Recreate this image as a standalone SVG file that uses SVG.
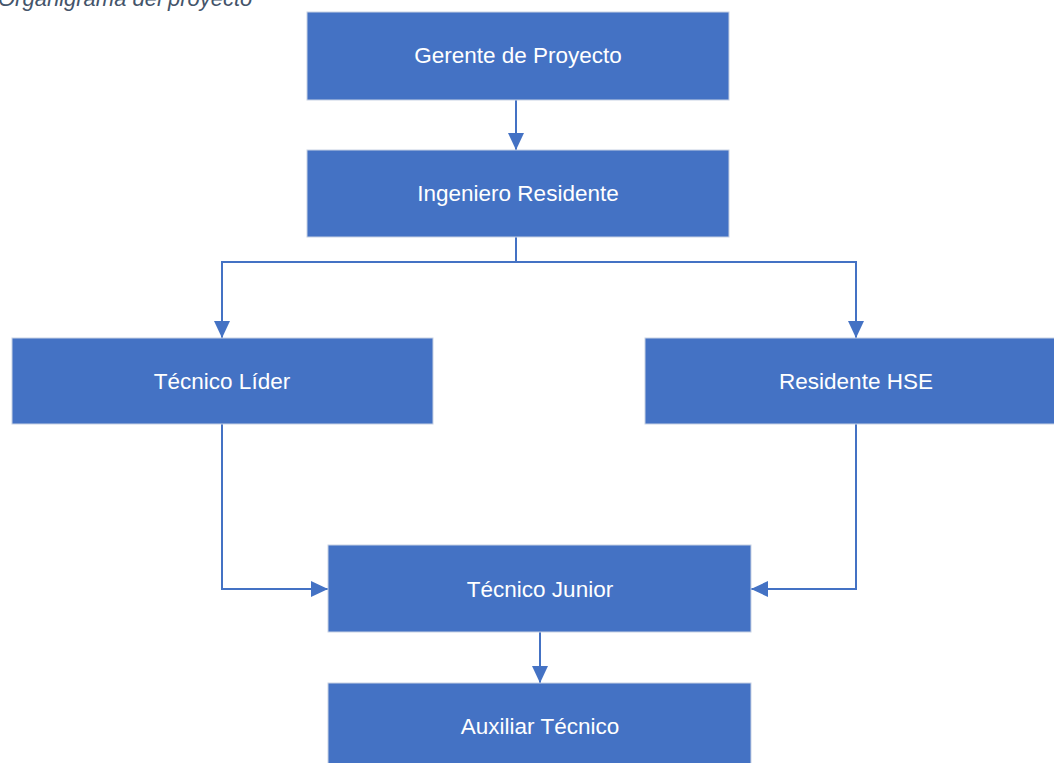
<svg xmlns="http://www.w3.org/2000/svg" width="1054" height="763" viewBox="0 0 1054 763">
<style>
.box{fill:#4472C4;stroke:#C8D2E4;stroke-width:1}
.lbl{font-family:"Liberation Sans",Arial,sans-serif;font-size:22.5px;fill:#FFFFFF;text-anchor:middle}
.title{font-family:"Liberation Sans",Arial,sans-serif;font-size:22px;font-style:italic;fill:#44546A}
.conn{fill:none;stroke:#4472C4;stroke-width:2}
</style>
<defs>
<marker id="ah" markerUnits="userSpaceOnUse" markerWidth="18" markerHeight="18" viewBox="0 0 18 18" refX="17" refY="9" orient="auto">
<path d="M0,1 L17,9 L0,17 Z" fill="#4472C4"/>
</marker>
</defs>
<rect width="1054" height="763" fill="#FFFFFF"/>
<text class="title" x="-2" y="6">Organigrama del proyecto</text>
<g id="connectors">
<path class="conn" d="M516,100 V150" marker-end="url(#ah)"/>
<path class="conn" d="M516,237 V262 H222 V338" marker-end="url(#ah)"/>
<path class="conn" d="M516,262 H856 V338" marker-end="url(#ah)"/>
<path class="conn" d="M222,424 V589 H328" marker-end="url(#ah)"/>
<path class="conn" d="M856,424 V589 H751" marker-end="url(#ah)"/>
<path class="conn" d="M540,632 V683" marker-end="url(#ah)"/>
</g>
<g id="gerente">
<rect class="box" x="307" y="12" width="422" height="88"/>
<text class="lbl" x="518" y="63">Gerente de Proyecto</text>
</g>
<g id="ingeniero">
<rect class="box" x="307" y="150" width="422" height="87"/>
<text class="lbl" x="518" y="201">Ingeniero Residente</text>
</g>
<g id="tecnico-lider">
<rect class="box" x="12" y="338" width="421" height="86"/>
<text class="lbl" x="222" y="389">Técnico Líder</text>
</g>
<g id="residente-hse">
<rect class="box" x="645" y="338" width="422" height="86"/>
<text class="lbl" x="856" y="389">Residente HSE</text>
</g>
<g id="tecnico-junior">
<rect class="box" x="328" y="545" width="423" height="87"/>
<text class="lbl" x="540" y="597">Técnico Junior</text>
</g>
<g id="auxiliar">
<rect class="box" x="328" y="683" width="423" height="88"/>
<text class="lbl" x="540" y="734">Auxiliar Técnico</text>
</g>
</svg>
